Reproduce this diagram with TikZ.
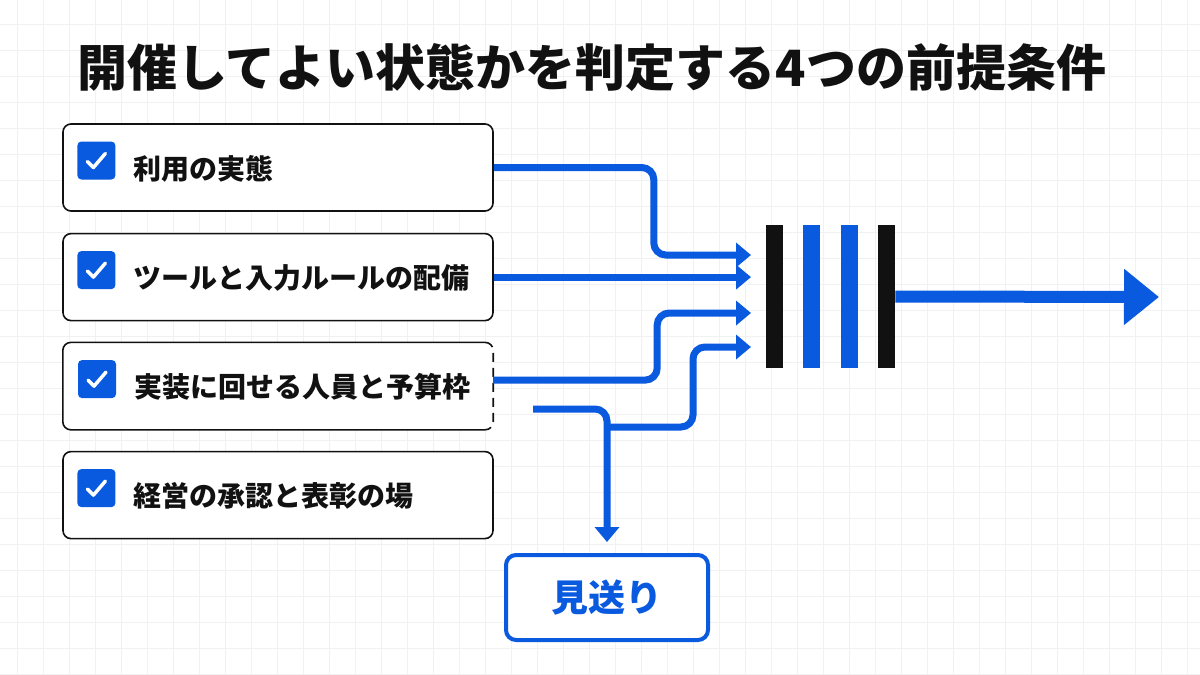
\documentclass[tikz,border=0pt]{standalone}
\usepackage{fontspec}
\setmainfont{Noto Sans CJK JP}
\usetikzlibrary{arrows.meta,positioning,calc}
\definecolor{gsblue}{HTML}{0A5AE0}
\definecolor{gsgrid}{HTML}{F1F1F1}
\definecolor{gsink}{HTML}{111111}
\tikzset{
  gsitem/.style={draw=gsink, line width=1.6pt, fill=white, rounded corners=8pt,
                 minimum width=430pt, minimum height=87pt, inner sep=0pt},
  gsopen/.style={fill=white, minimum width=430pt, minimum height=87pt, inner sep=0pt},
  gsline/.style={draw=gsink, line width=1.6pt, rounded corners=8pt},
  gscheck/.style={fill=gsblue, rounded corners=4pt, minimum size=38pt, inner sep=0pt},
  gstick/.style={draw=white, line width=3.5pt, line cap=round, line join=round},
  gstext/.style={font=\bfseries\fontsize{28pt}{32pt}\selectfont, text=gsink, inner sep=0pt},
  gsflow/.style={draw=gsblue, line width=7pt, rounded corners=12pt,
                 -{Triangle[length=15pt,width=24pt]}},
  gsout/.style={draw=gsblue, line width=12pt, -{Triangle[length=35pt,width=54pt]}},
  gsbar/.style={fill=#1, minimum width=17pt, minimum height=143pt, inner sep=0pt},
  gsskip/.style={draw=gsblue, line width=4pt, rounded corners=10pt, fill=white,
                 minimum width=202pt, minimum height=85pt, text=gsblue,
                 font=\bfseries\fontsize{37pt}{40pt}\selectfont},
  gsgridline/.style={draw=gsgrid, line width=1pt},
  gstitle/.style={font=\bfseries\fontsize{50pt}{56pt}\selectfont, text=gsink, inner sep=0pt},
}

\begin{document}
\begin{tikzpicture}[x=1pt,y=-1pt]
  \useasboundingbox[fill=white] (0,0) rectangle (1200,675);
  % faint grid behind everything
  \foreach \gx in {17,43,...,1200} \draw[gsgridline] (\gx,0) -- (\gx,675);
  \foreach \gy in {24,50,...,675} \draw[gsgridline] (0,\gy) -- (1200,\gy);

  \node[gstitle, anchor=west] (title) at (77,68) {開催してよい状態かを判定する4つの前提条件};

  % the four conditions
  \node[gsitem] (b1) at (278,167.5) {};
  \node[gsitem, below=21pt of b1] (b2) {};
  \node[gsopen, below=21pt of b2] (b3) {};
  \node[gsitem, below=21pt of b3] (b4) {};
  \draw[gsline] ([xshift=-8pt]b3.north east) -- (b3.north west) -- (b3.south west)
    -- ([xshift=-8pt]b3.south east);
  \draw[gsline, dash pattern=on 9pt off 6pt] ([xshift=-8pt]b3.north east)
    -- (b3.north east) -- (b3.south east) -- ([xshift=-8pt]b3.south east);

  \node[gscheck, right=15pt of b1.west, yshift=7pt] (c1) {};
  \node[gscheck, right=15pt of b2.west, yshift=7pt] (c2) {};
  \node[gscheck, right=15pt of b3.west, yshift=7pt] (c3) {};
  \node[gscheck, right=15pt of b4.west, yshift=7pt] (c4) {};
  \foreach \c in {c1,c2,c3,c4}
    \draw[gstick] ([shift={(-9,1)}]\c.center) -- ([shift={(-3,7)}]\c.center)
      -- ([shift={(9,-7)}]\c.center);

  \node[gstext, right=18pt of c1.east, yshift=-8pt, anchor=west] (t1) {利用の実態};
  \node[gstext, right=18pt of c2.east, yshift=-8pt, anchor=west] (t2) {ツールと入力ルールの配備};
  \node[gstext, right=18pt of c3.east, yshift=-8pt, anchor=west] (t3) {実装に回せる人員と予算枠};
  \node[gstext, right=18pt of c4.east, yshift=-8pt, anchor=west] (t4) {経営の承認と表彰の場};

  % gate of bars
  \node[gsbar=gsink] (g1) at (774.5,296.5) {};
  \node[gsbar=gsblue, right=20pt of g1] (g2) {};
  \node[gsbar=gsblue, right=20pt of g2] (g3) {};
  \node[gsbar=gsink, right=20pt of g3] (g4) {};
  \coordinate (in1) at (751,255);
  \coordinate (in3) at (751,313);
  \coordinate (in4) at (751,347);
  \coordinate (out) at (1159,297);

  \node[gsskip] (skip) at (607,597.5) {見送り};
  \coordinate (split) at (533,409);
  \coordinate (fork) at (607,427);

  \draw[gsflow] (b1.east) -- ++(160,0) |- (in1);
  \draw[gsflow] (b2.east) -- (b2.east -| in1);
  \draw[gsflow] ([yshift=6pt]b3.east) -- ++(164,0) |- (in3);
  \draw[gsflow, shorten >=11pt] (split) -| (skip.north);
  \draw[gsflow] (fork) -- ++(86,0) |- (in4);
  \draw[gsout] (g4.east) -- (out);
\end{tikzpicture}
\end{document}
